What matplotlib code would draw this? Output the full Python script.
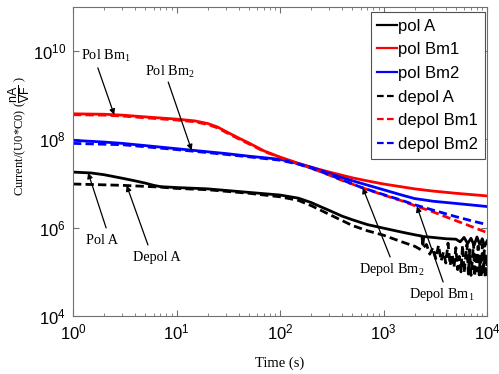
import numpy as np
import matplotlib
matplotlib.use('Agg')
from matplotlib import ticker, pyplot as plt

plt.rcParams['font.family'] = ['Liberation Sans', 'DejaVu Sans']
plt.rcParams['mathtext.fontset'] = 'custom'
plt.rcParams['mathtext.rm'] = 'Liberation Serif'
plt.rcParams['mathtext.sf'] = 'Liberation Sans'

# time (s) and log10 of current/(U0*C0)
t_pol_a = [1, 1.5, 2, 3, 4, 5, 6, 7, 10, 20, 50, 100, 150, 200, 250, 300, 400, 500, 700, 1000, 1500,
           2000, 2350, 2400, 2450, 3000, 4000, 5000, 5500, 6000, 6500, 7000, 7500, 8000, 8500, 9000, 9500, 10000]
lg_pol_a = [7.26, 7.24, 7.20, 7.12, 7.06, 7.01, 6.96, 6.93, 6.91, 6.88, 6.80, 6.74, 6.67, 6.57, 6.47, 6.39, 6.26, 6.18, 6.07, 5.99, 5.90,
            5.84, 5.81, 5.62, 5.80, 5.78, 5.75, 5.74, 5.68, 5.78, 5.64, 5.76, 5.60, 5.79, 5.62, 5.75, 5.58, 5.70]

t_pol_bm1 = [1, 2, 3, 5, 10, 15, 20, 25, 30, 40, 50, 70, 100, 150, 200, 300, 500, 700, 1000, 2000, 3000, 5000, 10000]
lg_pol_bm1 = [8.58, 8.57, 8.55, 8.51, 8.46, 8.42, 8.36, 8.28, 8.18, 8.03, 7.92, 7.74, 7.60, 7.46, 7.37, 7.26, 7.13, 7.06, 6.99,
              6.88, 6.83, 6.78, 6.72]

t_pol_bm2 = [1, 2, 3, 5, 10, 20, 30, 50, 100, 150, 200, 300, 400, 600, 1000, 1500, 2000, 3000, 5000, 10000]
lg_pol_bm2 = [7.98, 7.94, 7.91, 7.86, 7.79, 7.72, 7.68, 7.62, 7.55, 7.45, 7.37, 7.23, 7.13, 7.01, 6.86, 6.74, 6.66, 6.60,
              6.55, 6.48]

t_depol_a = [1, 3, 7, 10, 20, 50, 100, 150, 200, 300, 500, 700, 1000, 1500,
             2000, 2300, 2600, 2800, 3000, 3200, 3400, 3600, 3800, 4000, 4200, 4400, 4600, 4800, 5000, 5200,
             5400, 5600, 5800, 6000, 6200, 6400, 6600, 6800, 7000, 7200, 7400, 7600, 7800, 8000, 8200,
             8400, 8600, 8800, 9000, 9200, 9400, 9600, 9800, 10000]
lg_depol_a = [6.99, 6.96, 6.92, 6.89, 6.86, 6.78, 6.70, 6.62, 6.50, 6.30, 6.05, 5.93, 5.83, 5.68,
              5.58, 5.50, 5.62, 5.40, 5.55, 5.30, 5.60, 5.25, 5.45, 5.20, 5.65, 5.15, 5.40, 5.10, 5.55, 5.05,
              5.35, 5.00, 5.60, 4.98, 5.30, 5.62, 4.95, 5.50, 4.92, 5.25, 5.66, 4.90, 5.45, 5.02, 5.58,
              4.93, 5.35, 4.88, 5.62, 4.95, 5.48, 4.86, 5.40, 5.10]

t_depol_bm1 = [1, 2, 3, 5, 10, 15, 20, 25, 30, 40, 50, 70, 100, 150, 200, 300, 400, 600, 1000, 1500, 2000,
               3000, 5000, 7000, 10000]
lg_depol_bm1 = [8.56, 8.55, 8.53, 8.49, 8.44, 8.40, 8.34, 8.26, 8.16, 8.01, 7.90, 7.73, 7.59, 7.45, 7.35, 7.19,
                7.07, 6.92, 6.74, 6.61, 6.50, 6.36, 6.16, 6.03, 5.89]

t_depol_bm2 = [1, 3, 10, 30, 100, 150, 200, 300, 400, 600, 1000, 1500, 2000, 3000, 5000, 7000, 10000]
lg_depol_bm2 = [7.91, 7.88, 7.77, 7.66, 7.53, 7.44, 7.35, 7.20, 7.08, 6.92, 6.75, 6.62, 6.52, 6.40, 6.25, 6.16, 6.07]

series = [
    ('pol A', t_pol_a, lg_pol_a, 'black', '-'),
    ('pol Bm1', t_pol_bm1, lg_pol_bm1, 'red', '-'),
    ('pol Bm2', t_pol_bm2, lg_pol_bm2, 'blue', '-'),
    ('depol A', t_depol_a, lg_depol_a, 'black', (0, (3, 1.5))),
    ('depol Bm1', t_depol_bm1, lg_depol_bm1, 'red', (0, (3, 1.5))),
    ('depol Bm2', t_depol_bm2, lg_depol_bm2, 'blue', (0, (3, 1.5))),
]

# annotation label, series index, target time, text pos, arrow tail (axes fraction)
notes = [
    (r'Pol Bm$_\mathrm{1}$', 1, 2.5, (0.080, 0.841), (0.060, 0.803)),
    (r'Pol Bm$_\mathrm{2}$', 2, 14, (0.234, 0.790), (0.230, 0.757)),
    ('Pol A', 0, 1.4, (0.070, 0.243), (0.080, 0.285)),
    ('Depol A', 3, 3.3, (0.203, 0.188), (0.181, 0.230)),
    (r'Depol Bm$_\mathrm{2}$', 5, 630, (0.771, 0.149), (0.766, 0.191)),
    (r'Depol Bm$_\mathrm{1}$', 4, 2100, (0.891, 0.071), (0.894, 0.110)),
]

fig = plt.figure(figsize=(4.99, 3.74), dpi=100)
ax = fig.add_axes([0.1463, 0.1551, 0.8297, 0.8262])

for name, t, lg, col, ls in series:
    ax.plot(t, 10 ** np.array(lg), color=col, linestyle=ls, linewidth=2, label=name)

ax.set_xscale('log')
ax.set_yscale('log')
ax.set_xlim(1, 1e4)
ax.set_ylim(1e4, 1e11)
ax.set_yticks([1e4, 1e6, 1e8, 1e10])
ax.yaxis.set_minor_locator(ticker.NullLocator())
ax.xaxis.set_major_locator(ticker.LogLocator(base=10, numticks=10))
ax.xaxis.set_minor_locator(ticker.LogLocator(base=10, subs=np.arange(2, 10), numticks=10))
ax.tick_params(which='both', direction='in', top=True, right=True, labelsize=12, color='#707070', pad=5)
ax.tick_params(which='major', length=4, width=0.8)
ax.tick_params(which='minor', length=2, width=0.6)
for s in ax.spines.values():
    s.set_color('#707070')
    s.set_linewidth(0.8)

for label, idx, tt, txy, tail in notes:
    _, ts, lg, _, _ = series[idx]
    yv = 10 ** np.interp(np.log10(tt), np.log10(ts), lg)
    ax.text(txy[0], txy[1], label, transform=ax.transAxes, ha='center', va='center',
            family='Liberation Serif', fontsize=10.3)
    ax.annotate('', xy=(tt, yv), xycoords='data', xytext=tail, textcoords='axes fraction',
                arrowprops=dict(arrowstyle='-|>', color='black', lw=0.9, mutation_scale=8,
                                shrinkA=0, shrinkB=0))

ax.set_xlabel('Time (s)', family='Liberation Serif', fontsize=10.5)
ax.xaxis.set_label_coords(0.5, -0.13)
ax.set_ylabel(r'Current/(U0*C0) ($\dfrac{\mathsf{nA}}{\mathsf{VF}}$ )', family='Liberation Serif', fontsize=9)
ax.yaxis.set_label_coords(-0.098, 0.583)

leg = ax.legend(loc='upper right', bbox_to_anchor=(0.995, 0.984), borderaxespad=0, fontsize=12,
                handlelength=1.15, handletextpad=0.1, labelspacing=0.52, borderpad=0.4,
                fancybox=False, framealpha=1, edgecolor='#505050')
leg.get_frame().set_linewidth(0.8)
for ln in leg.get_lines():
    ln.set_linewidth(1.6)

fig.savefig('out.png', dpi=100)
